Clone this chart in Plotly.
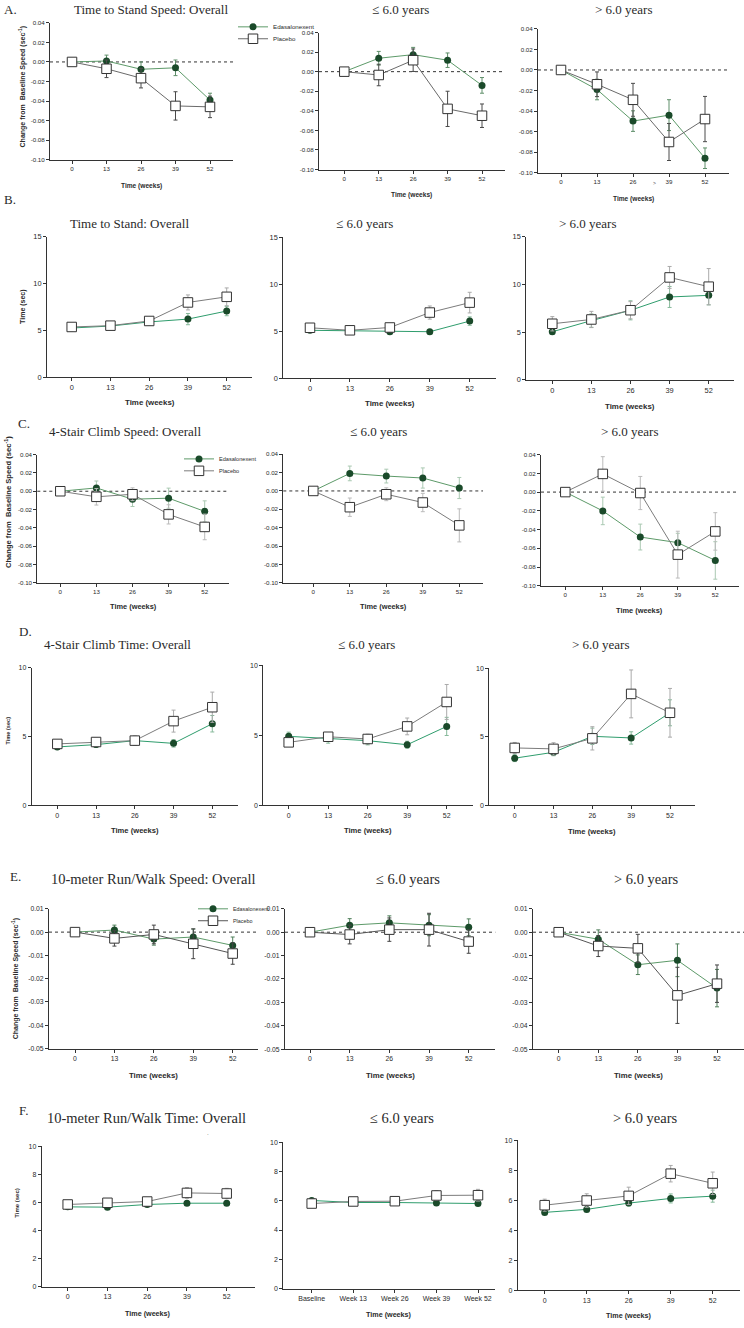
import plotly.graph_objects as go

W, H = 744, 1328

# ---------------- data ----------------
WEEKS = [0, 13, 26, 39, 52]
WEEK_TICK_TEXT = ["0", "13", "26", "39", "52"]
VISIT_TICK_TEXT = ["Baseline", "Week 13", "Week 26", "Week 39", "Week 52"]

SPEED_TICKS = [-0.10, -0.08, -0.06, -0.04, -0.02, 0.00, 0.02, 0.04]
SPEED_TICK_TEXT = ["-0.10", "-0.08", "-0.06", "-0.04", "-0.02", "0.00", "0.02", "0.04"]
RUN_SPEED_TICKS = [-0.05, -0.04, -0.03, -0.02, -0.01, 0.00, 0.01]
RUN_SPEED_TICK_TEXT = ["-0.05", "-0.04", "-0.03", "-0.02", "-0.01", "0.00", "0.01"]
STAND_TIME_TICKS = [0, 5, 10, 15]
STAIR_TIME_TICKS = [0, 5, 10]
RUN_TIME_TICKS = [0, 2, 4, 6, 8, 10]

SERIES = ["Edasalonexent", "Placebo"]

# A. Time to Stand Speed (change from baseline, sec^-1)
A1_EDA = [0.0, 0.001, -0.0075, -0.006, -0.039]
A1_EDA_ERR = [0.0, 0.006, 0.0075, 0.008, 0.007]
A1_PBO = [0.0, -0.007, -0.0166, -0.045, -0.046]
A1_PBO_ERR = [0.0, 0.009, 0.010, 0.0145, 0.011]
A2_EDA = [0.0, 0.0137, 0.0174, 0.0117, -0.014]
A2_EDA_ERR = [0.0, 0.007, 0.0074, 0.0074, 0.008]
A2_PBO = [0.0, -0.0034, 0.0117, -0.038, -0.045]
A2_PBO_ERR = [0.0, 0.011, 0.0115, 0.018, 0.012]
A3_EDA = [0.0, -0.019, -0.0497, -0.0439, -0.0858]
A3_EDA_ERR = [0.0, 0.010, 0.010, 0.015, 0.010]
A3_PBO = [0.0, -0.0139, -0.029, -0.070, -0.0477]
A3_PBO_ERR = [0.0, 0.012, 0.016, 0.018, 0.022]

# B. Time to Stand (sec)
B1_EDA = [5.25, 5.46, 5.9, 6.2, 7.06]
B1_EDA_ERR = [0.15, 0.15, 0.3, 0.6, 0.5]
B1_PBO = [5.36, 5.5, 6.0, 7.98, 8.58]
B1_PBO_ERR = [0.25, 0.2, 0.35, 0.8, 0.95]
B2_EDA = [5.1, 5.04, 4.95, 4.95, 6.08]
B2_EDA_ERR = [0.15, 0.15, 0.15, 0.2, 0.45]
B2_PBO = [5.37, 5.1, 5.4, 6.99, 8.05]
B2_PBO_ERR = [0.3, 0.2, 0.3, 0.7, 1.1]
B3_EDA = [5.03, 6.2, 7.28, 8.68, 8.85]
B3_EDA_ERR = [0.25, 0.7, 1.0, 1.1, 1.0]
B3_PBO = [5.87, 6.32, 7.29, 10.73, 9.76]
B3_PBO_ERR = [0.75, 0.85, 0.9, 1.15, 1.9]

# C. 4-Stair Climb Speed (change from baseline, sec^-1)
C1_EDA = [0.0, 0.0036, -0.0087, -0.0076, -0.022]
C1_EDA_ERR = [0.0, 0.0076, 0.008, 0.011, 0.0115]
C1_PBO = [0.0, -0.0061, -0.0033, -0.0253, -0.039]
C1_PBO_ERR = [0.0, 0.009, 0.007, 0.0105, 0.014]
C2_EDA = [0.0, 0.0191, 0.0162, 0.0141, 0.0032]
C2_EDA_ERR = [0.0, 0.008, 0.0075, 0.011, 0.0115]
C2_PBO = [0.0, -0.0177, -0.0036, -0.0126, -0.0375]
C2_PBO_ERR = [0.0, 0.010, 0.007, 0.010, 0.018]
C3_EDA = [0.0, -0.0201, -0.048, -0.054, -0.073]
C3_EDA_ERR = [0.0, 0.0147, 0.0138, 0.010, 0.020]
C3_PBO = [0.0, 0.0194, -0.001, -0.0668, -0.042]
C3_PBO_ERR = [0.0, 0.0184, 0.0177, 0.025, 0.020]

# D. 4-Stair Climb Time (sec)
D1_EDA = [4.24, 4.41, 4.7, 4.5, 5.93]
D1_EDA_ERR = [0.15, 0.2, 0.2, 0.27, 0.6]
D1_PBO = [4.46, 4.6, 4.7, 6.12, 7.13]
D1_PBO_ERR = [0.2, 0.3, 0.35, 0.8, 1.1]
D2_EDA = [4.93, 4.79, 4.62, 4.33, 5.64]
D2_EDA_ERR = [0.3, 0.35, 0.3, 0.25, 0.65]
D2_PBO = [4.5, 4.9, 4.74, 5.64, 7.39]
D2_PBO_ERR = [0.25, 0.3, 0.35, 0.6, 1.25]
D3_EDA = [3.44, 3.87, 5.04, 4.92, 6.76]
D3_EDA_ERR = [0.25, 0.25, 0.6, 0.45, 0.95]
D3_PBO = [4.19, 4.12, 4.89, 8.14, 6.76]
D3_PBO_ERR = [0.4, 0.45, 0.85, 1.75, 1.78]

# E. 10-meter Run/Walk Speed (change from baseline, sec^-1)
E1_EDA = [0.0, 0.0009, -0.003, -0.0021, -0.0057]
E1_EDA_ERR = [0.0, 0.0021, 0.0026, 0.0034, 0.0036]
E1_PBO = [0.0, -0.0027, -0.001, -0.005, -0.0092]
E1_PBO_ERR = [0.0, 0.0033, 0.004, 0.0064, 0.0046]
E2_EDA = [0.0, 0.003, 0.004, 0.003, 0.0021]
E2_EDA_ERR = [0.0, 0.0028, 0.003, 0.0045, 0.0036]
E2_PBO = [0.0, -0.001, 0.0011, 0.0011, -0.004]
E2_PBO_ERR = [0.0, 0.004, 0.005, 0.007, 0.005]
E3_EDA = [0.0, -0.003, -0.0139, -0.012, -0.0239]
E3_EDA_ERR = [0.0, 0.004, 0.0042, 0.007, 0.008]
E3_PBO = [0.0, -0.0059, -0.0069, -0.027, -0.022]
E3_PBO_ERR = [0.0, 0.0045, 0.006, 0.012, 0.008]

# F. 10-meter Run/Walk Time (sec)
F1_EDA = [5.69, 5.67, 5.86, 5.95, 5.95]
F1_EDA_ERR = [0.1, 0.1, 0.12, 0.15, 0.15]
F1_PBO = [5.86, 5.98, 6.07, 6.68, 6.64]
F1_PBO_ERR = [0.15, 0.2, 0.2, 0.38, 0.37]
F2_EDA = [6.02, 5.88, 5.88, 5.84, 5.81]
F2_EDA_ERR = [0.1, 0.1, 0.12, 0.12, 0.12]
F2_PBO = [5.81, 5.95, 5.97, 6.36, 6.38]
F2_PBO_ERR = [0.15, 0.15, 0.2, 0.34, 0.4]
F3_EDA = [5.19, 5.39, 5.81, 6.12, 6.27]
F3_EDA_ERR = [0.12, 0.15, 0.2, 0.3, 0.4]
F3_PBO = [5.67, 5.98, 6.29, 7.77, 7.13]
F3_PBO_ERR = [0.4, 0.45, 0.58, 0.55, 0.75]

TITLES = {
    "A1": "Time to Stand Speed: Overall", "A2": "≤ 6.0 years", "A3": "> 6.0 years",
    "B1": "Time to Stand: Overall", "B2": "≤ 6.0 years", "B3": "> 6.0 years",
    "C1": "4-Stair Climb Speed: Overall", "C2": "≤ 6.0 years", "C3": "> 6.0 years",
    "D1": "4-Stair Climb Time: Overall", "D2": "≤ 6.0 years", "D3": "> 6.0 years",
    "E1": "10-meter Run/Walk Speed: Overall", "E2": "≤ 6.0 years", "E3": "> 6.0 years",
    "F1": "10-meter Run/Walk Time: Overall", "F2": "≤ 6.0 years", "F3": "> 6.0 years",
}
SPEED_YTITLE = "Change from  Baseline Speed (sec<sup>-1</sup>)"
TIME_YTITLE = "Time (sec)"
XTITLE = "Time (weeks)"

PANELS = [
    ("A1", A1_EDA, A1_EDA_ERR, A1_PBO, A1_PBO_ERR, SPEED_TICKS, SPEED_TICK_TEXT, WEEK_TICK_TEXT),
    ("A2", A2_EDA, A2_EDA_ERR, A2_PBO, A2_PBO_ERR, SPEED_TICKS, SPEED_TICK_TEXT, WEEK_TICK_TEXT),
    ("A3", A3_EDA, A3_EDA_ERR, A3_PBO, A3_PBO_ERR, SPEED_TICKS, SPEED_TICK_TEXT, WEEK_TICK_TEXT),
    ("B1", B1_EDA, B1_EDA_ERR, B1_PBO, B1_PBO_ERR, STAND_TIME_TICKS, None, WEEK_TICK_TEXT),
    ("B2", B2_EDA, B2_EDA_ERR, B2_PBO, B2_PBO_ERR, STAND_TIME_TICKS, None, WEEK_TICK_TEXT),
    ("B3", B3_EDA, B3_EDA_ERR, B3_PBO, B3_PBO_ERR, STAND_TIME_TICKS, None, WEEK_TICK_TEXT),
    ("C1", C1_EDA, C1_EDA_ERR, C1_PBO, C1_PBO_ERR, SPEED_TICKS, SPEED_TICK_TEXT, WEEK_TICK_TEXT),
    ("C2", C2_EDA, C2_EDA_ERR, C2_PBO, C2_PBO_ERR, SPEED_TICKS, SPEED_TICK_TEXT, WEEK_TICK_TEXT),
    ("C3", C3_EDA, C3_EDA_ERR, C3_PBO, C3_PBO_ERR, SPEED_TICKS, SPEED_TICK_TEXT, WEEK_TICK_TEXT),
    ("D1", D1_EDA, D1_EDA_ERR, D1_PBO, D1_PBO_ERR, STAIR_TIME_TICKS, None, WEEK_TICK_TEXT),
    ("D2", D2_EDA, D2_EDA_ERR, D2_PBO, D2_PBO_ERR, STAIR_TIME_TICKS, None, WEEK_TICK_TEXT),
    ("D3", D3_EDA, D3_EDA_ERR, D3_PBO, D3_PBO_ERR, STAIR_TIME_TICKS, None, WEEK_TICK_TEXT),
    ("E1", E1_EDA, E1_EDA_ERR, E1_PBO, E1_PBO_ERR, RUN_SPEED_TICKS, RUN_SPEED_TICK_TEXT, WEEK_TICK_TEXT),
    ("E2", E2_EDA, E2_EDA_ERR, E2_PBO, E2_PBO_ERR, RUN_SPEED_TICKS, RUN_SPEED_TICK_TEXT, WEEK_TICK_TEXT),
    ("E3", E3_EDA, E3_EDA_ERR, E3_PBO, E3_PBO_ERR, RUN_SPEED_TICKS, RUN_SPEED_TICK_TEXT, WEEK_TICK_TEXT),
    ("F1", F1_EDA, F1_EDA_ERR, F1_PBO, F1_PBO_ERR, RUN_TIME_TICKS, None, WEEK_TICK_TEXT),
    ("F2", F2_EDA, F2_EDA_ERR, F2_PBO, F2_PBO_ERR, RUN_TIME_TICKS, None, VISIT_TICK_TEXT),
    ("F3", F3_EDA, F3_EDA_ERR, F3_PBO, F3_PBO_ERR, RUN_TIME_TICKS, None, WEEK_TICK_TEXT),
]

# ---------------- layout (pixel geometry) ----------------
# (axis left, axis right, top tick y, bottom axis y, x of week 0, x of week 52)
GEOM = {
    "A1": (50, 233, 19, 156.7, 72, 210),
    "A2": (319, 505, 28.7, 166.7, 344.3, 482),
    "A3": (538, 729, 25, 170, 561, 705),
    "B1": (47, 252, 234.3, 375.7, 71.7, 226.7),
    "B2": (283.3, 496, 235, 376.7, 310, 469.7),
    "B3": (526.3, 733.7, 234.3, 378.3, 552.3, 708.7),
    "C1": (37.3, 229.3, 453.7, 582.7, 60.3, 204.7),
    "C2": (283.3, 483, 453.3, 582.7, 313.3, 459.3),
    "C3": (541, 738.7, 453.7, 585.7, 565.3, 715.3),
    "D1": (31.7, 238.3, 668.3, 806.7, 57.3, 212.3),
    "D2": (263.3, 472.7, 666, 806.7, 288.7, 446.7),
    "D3": (489.3, 695.3, 669, 806.7, 514.7, 670),
    "E1": (49, 258, 911, 1051.7, 75, 232.7),
    "E2": (285, 495.3, 911, 1052.3, 310, 468.7),
    "E3": (533, 744, 911, 1052.3, 558.7, 717),
    "F1": (41.7, 255, 1150, 1291.7, 67.7, 226.7),
    "F2": (283.3, 495.3, 1146, 1293.3, 311.7, 478),
    "F3": (517.7, 740.3, 1144, 1295, 544.7, 712.7),
}
TITLE_POS = {
    "A1": (151, 6), "A2": (400, 6), "A3": (624, 6),
    "B1": (129, 221), "B2": (364, 221), "B3": (588, 221),
    "C1": (125, 430), "C2": (378, 430), "C3": (630, 430),
    "D1": (117, 645), "D2": (366, 645), "D3": (601, 645),
    "E1": (153, 881), "E2": (408, 881), "E3": (646, 881),
    "F1": (146, 1122), "F2": (402, 1122), "F3": (645, 1122),
}
XTITLE_Y = {
    "A1": 183.3, "A2": 192.7, "A3": 196.7,
    "B1": 401.7, "B2": 402, "B3": 405,
    "C1": 606.7, "C2": 607, "C3": 611,
    "D1": 832, "D2": 832.5, "D3": 833,
    "E1": 1079, "E2": 1079, "E3": 1079,
    "F1": 1318, "F2": 1319.5, "F3": 1320.5,
}
YTITLE_POS = {
    "A1": (22, 84), "B1": (23, 305), "C1": (7.5, 502),
    "D1": (8.5, 732), "E1": (15, 982), "F1": (17, 1207),
}
LETTER_POS = {"A": (2, 5.5), "B": (2, 197), "C": (16, 422), "D": (17, 632), "E": (8, 878), "F": (17, 1114)}

ROW_STYLE = {
    "A": dict(tick=6.2, xt=6.6, yt=7, title=13, eda_line="#5d9a69", eda_err="#5f8f6a", pbo_line="#6a6a6a", pbo_err="#4a4a4a"),
    "B": dict(tick=7.4, xt=7.9, yt=7, title=13, eda_line="#2f9d6d", eda_err="#86b99a", pbo_line="#7c7c7c", pbo_err="#aaaaaa"),
    "C": dict(tick=6.2, xt=7.4, yt=7.6, title=13, eda_line="#5d9a69", eda_err="#aac9b2", pbo_line="#7c7c7c", pbo_err="#bbbbbb"),
    "D": dict(tick=7, xt=7.6, yt=5.6, title=13, eda_line="#2f9d6d", eda_err="#86b99a", pbo_line="#7c7c7c", pbo_err="#aaaaaa"),
    "E": dict(tick=6.8, xt=7.8, yt=7, title=14.5, eda_line="#5d9a69", eda_err="#4f7f5a", pbo_line="#555555", pbo_err="#444444"),
    "F": dict(tick=7, xt=7.2, yt=6, title=14.5, eda_line="#2f9d6d", eda_err="#86b99a", pbo_line="#7c7c7c", pbo_err="#aaaaaa"),
}
# legend anchors: (x px, Edasalonexent y px, Placebo y px, font size)
LEGEND_POS = {"A1": (233, 23, 35, 6.2), "C1": (179, 458, 470, 5.6), "E1": (193, 911, 923, 5.4)}

EDA_MARKER = "#1a4a2a"
SANS = "Liberation Sans"
SERIF = "Liberation Serif"
TEXT_COLOR = "#2a2a2a"


def px_x(v):
    return v / W


def px_y(v):
    return 1 - v / H


fig = go.Figure()
layout = {}
annotations = []
shapes = []
legend_count = 0

for idx, (key, eda, eda_err, pbo, pbo_err, yticks, yticktext, xticktext) in enumerate(PANELS, start=1):
    row = key[0]
    st = ROW_STYLE[row]
    L, R, T, B, X0, X52 = GEOM[key]
    sc = (X52 - X0) / (WEEKS[-1] - WEEKS[0])
    xr = [(L - X0) / sc, (R - X0) / sc]
    xid = "x" if idx == 1 else f"x{idx}"
    yid = "y" if idx == 1 else f"y{idx}"
    xkey = "xaxis" if idx == 1 else f"xaxis{idx}"
    ykey = "yaxis" if idx == 1 else f"yaxis{idx}"

    layout[xkey] = dict(
        domain=[px_x(L), px_x(R)], range=xr, anchor=yid,
        tickmode="array", tickvals=WEEKS, ticktext=xticktext,
        showline=True, linecolor="#333", linewidth=1,
        ticks="outside", ticklen=3, tickwidth=1, tickcolor="#333",
        showgrid=False, zeroline=False,
        tickfont=dict(family=SANS, size=st["tick"], color=TEXT_COLOR),
    )
    layout[ykey] = dict(
        domain=[px_y(B), px_y(T)], range=[yticks[0], yticks[-1]], anchor=xid,
        tickmode="array", tickvals=yticks,
        ticktext=yticktext if yticktext else [str(v) for v in yticks],
        showline=True, linecolor="#333", linewidth=1,
        ticks="outside", ticklen=3, tickwidth=1, tickcolor="#333",
        showgrid=False, zeroline=False,
        tickfont=dict(family=SANS, size=st["tick"], color=TEXT_COLOR),
    )

    if row in "ACE":
        shapes.append(dict(
            type="line", xref=f"{xid} domain", yref=yid, x0=0, x1=1, y0=0, y1=0,
            line=dict(color="#333", width=1, dash="dot"), layer="below",
        ))

    show = key in LEGEND_POS
    if show:
        lg_eda = "legend" if legend_count == 0 else f"legend{legend_count + 1}"
        lg_pbo = f"legend{legend_count + 2}"
        lx, ye, yp, fs = LEGEND_POS[key]
        for lg, yy in ((lg_eda, ye), (lg_pbo, yp)):
            layout[lg] = dict(
                x=px_x(lx), y=px_y(yy), xanchor="left", yanchor="middle",
                bgcolor="rgba(0,0,0,0)", borderwidth=0, itemwidth=30,
                font=dict(family=SANS, size=fs, color=TEXT_COLOR),
            )
        legend_count += 2
    else:
        lg_eda = lg_pbo = "legend"

    fig.add_trace(go.Scatter(
        x=WEEKS, y=eda, name=SERIES[0], mode="lines+markers",
        xaxis=xid, yaxis=yid, showlegend=show, legend=lg_eda,
        line=dict(color=st["eda_line"], width=1),
        marker=dict(symbol="circle", size=7, color=EDA_MARKER, line=dict(width=0)),
        error_y=dict(type="data", array=eda_err, visible=True, color=st["eda_err"], thickness=1, width=2),
    ))
    fig.add_trace(go.Scatter(
        x=WEEKS, y=pbo, name=SERIES[1], mode="lines+markers",
        xaxis=xid, yaxis=yid, showlegend=show, legend=lg_pbo,
        line=dict(color=st["pbo_line"], width=1),
        marker=dict(symbol="square", size=9.5, color="white", line=dict(width=1, color="#333")),
        error_y=dict(type="data", array=pbo_err, visible=True, color=st["pbo_err"], thickness=1, width=2),
    ))

    tx, ty = TITLE_POS[key]
    annotations.append(dict(
        text=TITLES[key], x=px_x(tx), y=px_y(ty), xref="paper", yref="paper",
        xanchor="center", yanchor="middle", showarrow=False,
        font=dict(family=SERIF, size=st["title"], color=TEXT_COLOR),
    ))
    annotations.append(dict(
        text=f"<b>{XTITLE}</b>", x=px_x((L + R) / 2), y=px_y(XTITLE_Y[key]),
        xref="paper", yref="paper", xanchor="center", yanchor="middle", showarrow=False,
        font=dict(family=SANS, size=st["xt"], color=TEXT_COLOR),
    ))
    if key in YTITLE_POS:
        yx, yy = YTITLE_POS[key]
        annotations.append(dict(
            text=f"<b>{SPEED_YTITLE if row in 'ACE' else TIME_YTITLE}</b>",
            x=px_x(yx), y=px_y(yy), xref="paper", yref="paper", textangle=-90,
            xanchor="center", yanchor="middle", showarrow=False,
            font=dict(family=SANS, size=st["yt"], color=TEXT_COLOR),
        ))

for letter, (lx, ly) in LETTER_POS.items():
    annotations.append(dict(
        text=f"{letter}.", x=px_x(lx), y=px_y(ly), xref="paper", yref="paper",
        xanchor="left", yanchor="middle", showarrow=False,
        font=dict(family=SERIF, size=13, color=TEXT_COLOR),
    ))

# stray glyphs present in the original figure
annotations.append(dict(text=">", x=px_x(654), y=px_y(180), xref="paper", yref="paper",
                        xanchor="center", yanchor="middle",
                        showarrow=False, font=dict(family=SANS, size=5, color="#444")))
annotations.append(dict(text=".", x=px_x(208), y=px_y(1137), xref="paper", yref="paper",
                        xanchor="center", yanchor="middle",
                        showarrow=False, font=dict(family=SANS, size=6, color="#444")))

fig.update_layout(
    width=W, height=H, margin=dict(l=0, r=0, t=0, b=0),
    paper_bgcolor="white", plot_bgcolor="white",
    annotations=annotations, shapes=shapes, **layout,
)

fig.write_html(
    "out.html",
    config={"displayModeBar": False},
    post_script="document.body.style.margin='0';",
)
